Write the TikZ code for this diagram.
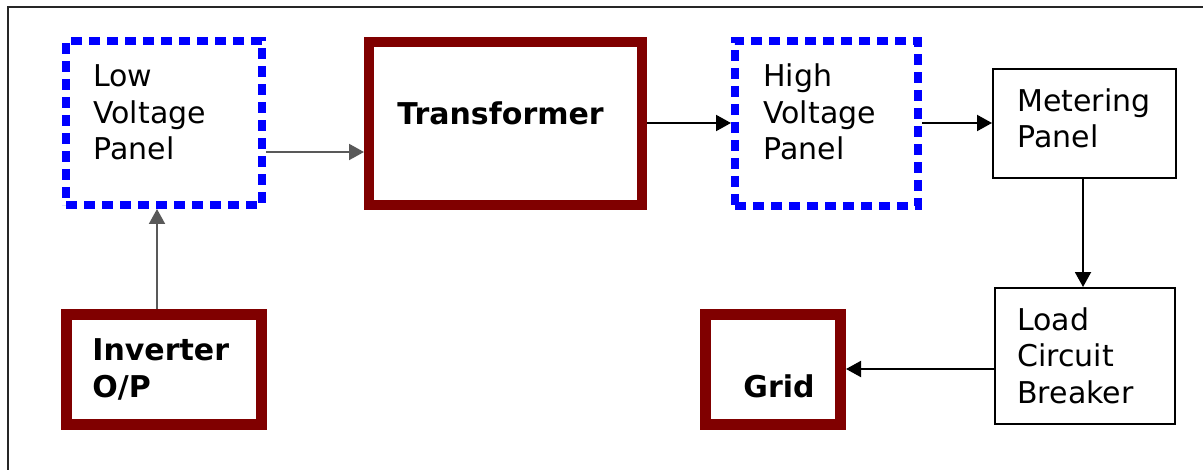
\documentclass[tikz,border=0pt]{standalone}
\usepackage{fontspec}
\setmainfont{DejaVu Sans}
\usetikzlibrary{arrows.meta}
\definecolor{maroonbox}{RGB}{128,0,0}
\definecolor{bluedot}{RGB}{0,0,255}
\tikzset{
  dotbox/.style={draw=bluedot, line width=4pt, dash pattern=on 5.5pt off 3.5pt, rectangle, inner sep=0pt},
  redbox/.style={draw=maroonbox, rectangle, inner sep=0pt},
  thinbox/.style={draw=black, line width=1pt, rectangle, inner sep=0pt},
  lbl/.style={anchor=base west, inner sep=0pt, align=left, font=\fontsize{15pt}{18.25pt}\selectfont},
  blbl/.style={lbl, font=\fontsize{15pt}{18.5pt}\selectfont\bfseries},
  arr/.style={draw=black, line width=1pt, -{Triangle[length=7.5pt,width=8pt]}},
  grayarr/.style={arr, draw=black!65},
}
\begin{document}
\begin{tikzpicture}[x=0.5pt,y=-0.5pt]
\useasboundingbox (0,0) rectangle (1203,470);
% frame
\coordinate (fr1) at (1203,7);
\coordinate (fr2) at (8,7);
\coordinate (fr3) at (8,470);
\draw[line width=1pt, black!85] (fr1) -- (fr2) -- (fr3);
% boxes
\node[dotbox, minimum width=98pt, minimum height=82pt] (lv) at (164,123) {};
\node[redbox, line width=5pt, minimum width=136.5pt, minimum height=81.5pt] (tr) at (505.5,123.5) {};
\node[dotbox, minimum width=91.5pt, minimum height=82.5pt] (hv) at (826.5,123.5) {};
\node[thinbox, minimum width=91.5pt, minimum height=54.5pt] (met) at (1084.5,123.5) {};
\node[thinbox, minimum width=90pt, minimum height=68pt] (lcb) at (1085,356) {};
\node[redbox, line width=5.5pt, minimum width=97.5pt, minimum height=55pt] (inv) at (164,369.5) {};
\node[redbox, line width=5.5pt, minimum width=67.5pt, minimum height=55pt] (grid) at (773,369.5) {};
% labels (anchored at the baseline of the last line)
\node[lbl] (lvt) at (93,160) {Low\\Voltage\\Panel};
\node[blbl] (trt) at (397,125) {Transformer};
\node[lbl] (hvt) at (763,160) {High\\Voltage\\Panel};
\node[lbl] (mett) at (1017,148) {Metering\\Panel};
\node[lbl] (lcbt) at (1017,403) {Load\\Circuit\\Breaker};
\node[blbl] (invt) at (92,397) {Inverter\\O/P};
\node[blbl] (gridt) at (743,397) {Grid};
% connectors
\draw[grayarr] (lv.east |- 0,152) -- (tr.west |- 0,152);
\draw[grayarr] (inv.north -| 157,0) -- (lv.south -| 157,0);
\draw[arr] (tr.east |- 0,123) -- (hv.west |- 0,123);
\draw[arr] (hv.east |- 0,123) -- (met.west |- 0,123);
\draw[arr] (met.south -| 1083,0) -- (lcb.north -| 1083,0);
\draw[arr] (lcb.west |- 0,369) -- (grid.east |- 0,369);
\end{tikzpicture}
\end{document}
